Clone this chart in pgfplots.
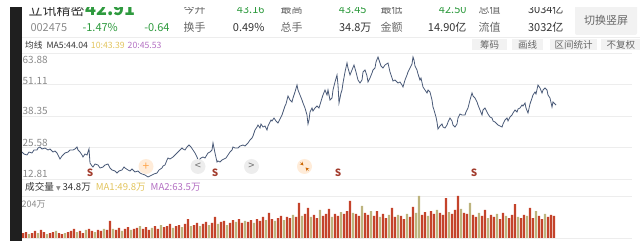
\documentclass[border=0pt]{standalone}
\usepackage{pgfplots}
\pgfplotsset{compat=1.18}
\usepackage{fontspec}
\setmainfont{Noto Sans CJK SC}
\newfontfamily\dejavu{DejaVu Sans}
\definecolor{pline}{HTML}{4A5A78}
\definecolor{vred}{HTML}{C4432B}
\definecolor{volive}{HTML}{BDB47E}
\definecolor{upg}{HTML}{2E9A3E}
\definecolor{maY}{HTML}{E2C45E}
\definecolor{maP}{HTML}{B36FC2}
\definecolor{tickg}{HTML}{8A8A8A}
\definecolor{gridc}{HTML}{EDEDED}
\definecolor{smark}{HTML}{A33D2E}
\definecolor{btn}{HTML}{F2F2F2}
\definecolor{txt}{HTML}{333333}
\definecolor{lbl}{HTML}{666666}

\pgfplotstableread{
x p
22 23.75
24 22.94
27 22.54
29 23.75
32 23.35
34 24.56
37 24.56
38 25.37
40 25.78
42 24.97
45 25.37
48 24.56
50 24.97
53 23.75
55 24.16
57 23.35
58 22.54
60 20.92
62 22.13
63 22.54
65 23.35
68 23.75
70 24.56
73 24.56
75 24.97
77 25.78
78 24.56
80 23.75
82 22.54
83 21.73
85 22.94
87 22.54
89 24.97
90 19.29
92 18.08
93 17.67
95 18.89
98 18.48
100 17.27
103 17.67
105 18.48
108 18.89
110 17.27
112 16.46
115 16.05
117 15.24
119 16.05
122 16.46
124 17.67
125 17.27
128 16.46
130 16.05
132 16.86
135 15.65
138 16.05
140 15.24
142 14.84
145 14.43
148 13.62
150 14.03
152 14.43
154 14.84
157 15.24
159 16.46
162 17.27
163 18.08
165 18.48
167 20.51
168 21.32
170 20.92
173 21.73
175 22.54
177 23.35
178 23.75
180 24.56
182 25.37
183 24.97
185 24.56
187 25.78
189 26.59
191 25.78
193 24.56
195 23.35
197 21.73
198 20.51
199 20.51
201 21.32
203 21.73
205 21.32
208 23.35
210 23.75
212 24.56
213 27.40
214 25.37
215 23.35
217 19.70
218 20.11
220 19.70
222 20.51
224 20.92
226 21.32
228 22.54
230 23.75
232 24.56
233 25.78
235 25.37
238 25.37
240 26.18
243 26.59
245 26.18
248 27.40
250 28.62
252 29.43
253 30.24
255 32.67
257 33.89
258 34.70
260 33.48
261 35.10
263 33.89
265 34.29
267 32.67
268 34.29
271 36.72
272 36.32
274 37.53
276 36.32
278 35.51
280 37.13
282 38.75
283 39.97
285 42.40
286 43.21
288 46.45
290 44.83
292 44.02
293 45.64
295 48.07
297 50.91
298 48.88
300 46.86
302 44.83
303 43.61
305 41.59
307 38.75
308 35.10
309 36.72
310 39.97
312 41.59
313 40.37
315 41.59
317 42.40
319 41.59
322 45.64
323 46.86
325 48.88
327 46.86
328 48.88
330 44.83
332 45.64
333 48.88
335 52.12
337 54.96
338 50.91
339 43.61
341 47.67
342 48.88
343 51.72
345 56.18
347 59.82
348 57.80
350 54.96
352 56.99
354 59.01
356 56.18
358 52.93
360 51.72
362 52.93
363 56.18
365 56.99
367 54.56
368 52.12
370 53.75
372 55.77
373 56.99
375 57.80
376 60.23
378 62.26
380 59.82
381 58.61
383 57.80
385 59.01
388 59.82
390 56.18
392 53.75
393 52.53
395 52.93
398 51.72
400 52.12
402 50.91
403 50.10
405 52.93
407 54.96
408 56.18
410 57.80
412 59.42
413 62.26
414 61.04
415 58.61
417 56.99
418 55.37
420 52.93
421 53.75
423 50.10
425 48.88
427 47.67
428 48.88
430 48.07
432 44.83
433 41.99
434 40.78
436 37.94
437 35.91
438 33.08
440 34.29
442 35.10
443 33.89
445 33.48
447 34.70
448 35.91
450 37.53
452 36.32
453 34.70
455 33.89
457 35.10
458 37.53
460 39.15
462 38.75
465 38.75
466 39.97
468 41.59
470 44.83
472 47.67
473 46.45
475 45.64
477 44.02
478 42.80
480 40.78
482 38.75
483 40.78
485 41.59
487 39.97
488 39.15
490 37.94
492 37.53
493 36.32
495 35.91
497 35.10
498 34.70
500 34.29
502 33.89
503 35.10
505 36.72
507 37.53
508 36.32
510 37.94
512 38.75
513 39.56
515 40.78
517 39.97
518 41.18
520 41.59
522 42.80
523 42.40
525 43.61
526 41.59
528 39.56
530 43.21
532 45.64
533 46.86
535 48.07
536 47.26
538 50.91
540 49.69
542 47.67
543 48.88
545 49.69
547 48.88
548 46.86
550 45.64
552 41.99
553 44.02
554 43.61
556 42.80
}\pricetab

\pgfplotstableread{
x v
23 24
26 29
32 24
35 34
41 39
44 29
50 24
53 29
59 24
62 19
68 29
71 34
74 44
80 34
83 24
89 44
92 34
98 39
101 34
107 39
110 83
116 39
119 49
125 44
128 53
134 44
137 49
143 44
146 53
149 39
155 58
158 44
164 53
167 58
170 68
176 58
179 63
185 68
188 92
194 63
197 73
203 68
206 78
212 73
215 102
221 78
224 83
230 73
233 87
239 92
242 73
248 78
251 87
257 92
260 83
263 102
269 122
272 92
278 97
281 107
287 102
290 97
296 102
299 170
305 117
308 146
314 112
317 97
323 107
326 117
329 141
335 117
338 107
344 117
347 131
350 180
356 117
359 107
365 122
368 112
374 107
377 131
383 117
386 97
392 146
395 102
401 107
404 92
410 102
413 151
422 112
425 126
431 131
434 117
440 122
443 112
446 194
452 117
455 136
458 204
464 122
467 117
473 112
476 102
482 107
485 136
491 112
494 102
500 92
503 122
509 97
512 112
515 165
521 97
524 112
530 146
533 97
539 107
542 92
548 102
551 112
554 107
}\redtab

\pgfplotstableread{
x v
29 19
38 24
47 19
56 34
65 24
77 29
86 39
95 29
104 44
113 44
122 34
131 39
140 58
152 49
161 63
173 49
182 53
191 58
200 58
209 63
218 68
227 63
236 78
245 83
254 73
266 87
275 83
284 87
293 112
302 107
311 102
320 136
332 102
341 126
353 122
362 156
371 131
380 102
389 112
398 112
407 117
416 122
419 204
428 107
437 136
449 126
461 141
470 170
479 122
488 97
497 117
506 107
518 102
527 107
536 131
545 117
}\olivetab

\begin{document}
\begin{tikzpicture}[x=1pt,y=1pt]
\useasboundingbox (0,0) rectangle (640,241);
\begin{scope}
\clip (0,0) rectangle (640,233);
% dark strip
\fill[black!88] (10,0) rectangle (21.5,241);
% header row 1 (cut)
\node[anchor=base west,text=txt,font=\fontsize{14}{16}\selectfont] at (25,225.5) {立讯精密};
\node[anchor=base west,text=upg,font=\fontsize{18}{20}\selectfont\bfseries] at (82,225) {42.91};
\begin{scope}[every node/.style={font=\fontsize{11}{13}\selectfont}]
\node[anchor=base west,text=lbl] at (180,227) {今开};
\node[anchor=base east,text=upg] at (268,227) {43.16};
\node[anchor=base west,text=lbl] at (277,227) {最高};
\node[anchor=base east,text=upg] at (370,227) {43.45};
\node[anchor=base west,text=lbl] at (377,227) {最低};
\node[anchor=base east,text=upg] at (470,227) {42.50};
\node[anchor=base west,text=lbl] at (475,227) {总值};
\node[anchor=base east,text=txt] at (567,227) {3034亿};
% row 2
\node[anchor=base west,text=tickg] at (27,209.5) {002475};
\node[anchor=base west,text=upg] at (79,209.5) {-1.47\%};
\node[anchor=base east,text=upg] at (173,209.5) {-0.64};
\node[anchor=base west,text=lbl] at (180,209.5) {换手};
\node[anchor=base east,text=txt] at (268,209.5) {0.49\%};
\node[anchor=base west,text=lbl] at (277,209.5) {总手};
\node[anchor=base east,text=txt] at (375,209.5) {34.8万};
\node[anchor=base west,text=lbl] at (377,209.5) {金额};
\node[anchor=base east,text=txt] at (470,209.5) {14.90亿};
\node[anchor=base west,text=lbl] at (475,209.5) {流值};
\node[anchor=base east,text=txt] at (567,209.5) {3032亿};
\end{scope}
% switch button
\fill[btn,rounded corners=2pt] (575,206) rectangle (637,238);
\node[text=lbl,font=\fontsize{11}{13}\selectfont] at (606,220.5) {切换竖屏};
% separator
\draw[gridc,line width=0.8pt] (22,204) -- (640,204);
% row 3
\node[anchor=base west,text=txt,font=\fontsize{8.7}{10}\selectfont,inner sep=0pt] at (25,192.7) {均线\hspace{4pt}MA5:44.04\hspace{3pt}\textcolor{maY}{10:43.39}\hspace{3pt}\textcolor{maP}{20:45.53}};
% buttons
\begin{scope}[every node/.style={font=\fontsize{9.5}{11}\selectfont,text=lbl}]
\fill[btn] (472,190.5) rectangle (507,202);
\node at (489.5,196) {筹码};
\fill[btn] (512,190.5) rectangle (543,202);
\node at (527.5,196) {画线};
\fill[btn] (550,190.5) rectangle (597,202);
\node at (573.5,196) {区间统计};
\fill[btn] (601,190.5) rectangle (645,202);
\node[anchor=west] at (603,196) {不复权};
\end{scope}

% price axis
\begin{axis}[at={(22pt,62pt)},anchor=south west,scale only axis,
  width=610pt,height=126pt,xmin=22,xmax=632,ymin=12.81,ymax=63.88,
  axis line style={draw=none},tick style={draw=none},
  xtick=\empty,ytick={12.81,25.58,38.35,51.11,63.88},yticklabels={},
  ymajorgrids,major grid style={gridc,line width=0.8pt},clip=true]
\addplot[pline,line width=0.8pt,mark=none] table[x=x,y=p] {\pricetab};
\end{axis}
% volume axis
\begin{axis}[at={(22pt,3pt)},anchor=south west,scale only axis,
  width=610pt,height=42pt,xmin=22,xmax=632,ymin=0,ymax=204,
  axis line style={draw=none},tick style={draw=none},
  xtick=\empty,ytick={0,204},yticklabels={},
  ymajorgrids,major grid style={gridc,line width=0.8pt}]
\addplot[ybar,bar shift=0pt,bar width=2.4pt,fill=vred,draw=none] table[x=x,y=v] {\redtab};
\addplot[ybar,bar shift=0pt,bar width=2.4pt,fill=volive,draw=none] table[x=x,y=v] {\olivetab};
\end{axis}

% price tick labels
\begin{scope}[every node/.style={anchor=base west,text=tickg,font=\fontsize{10}{12}\selectfont,inner sep=0pt}]
\node at (22.5,177) {63.88};
\node at (22.5,156.5) {51.11};
\node at (22.5,126) {38.35};
\node at (22.5,94) {25.58};
\node at (22.5,63) {12.81};
\node[font=\fontsize{9}{11}\selectfont] at (21.5,33) {204万};
\end{scope}
% volume header
\node[anchor=base west,inner sep=0pt,text=txt,font=\fontsize{9.6}{12}\selectfont] at (25,50) {成交量\hspace{2pt}{\dejavu\fontsize{6}{7}\selectfont\textcolor{tickg}{▼}}\hspace{2pt}34.8万\hspace{5pt}\textcolor{maY}{MA1:49.8万}\hspace{5pt}\textcolor{maP}{MA2:63.5万}};

% S markers
\begin{scope}[every node/.style={text=smark,font=\fontsize{10}{12}\selectfont\bfseries}]
\node at (90,68.5) {S};
\node at (215,68.5) {S};
\node at (338,68.5) {S};
\node at (474,68.5) {S};
\end{scope}
% icons
\fill[orange!15] (146,74.5) circle (7.5);
\node[text=orange!70,font=\fontsize{12}{12}\selectfont] at (146,74.5) {+};
\fill[black!7] (198,74.5) circle (7.5);
\node[text=black!55,font=\fontsize{11}{12}\selectfont] at (198,75) {<};
\fill[black!7] (251.5,74.5) circle (7.5);
\node[text=black!55,font=\fontsize{11}{12}\selectfont] at (251.5,75) {>};
\fill[orange!15] (304.5,74.5) circle (7.5);
\draw[orange!80!black,line width=0.6pt,-stealth] (300.5,78.5) -- (303.5,75.5);
\draw[orange!80!black,line width=0.6pt,-stealth] (308.5,70.5) -- (305.5,73.5);
\end{scope}
\end{tikzpicture}
\end{document}
